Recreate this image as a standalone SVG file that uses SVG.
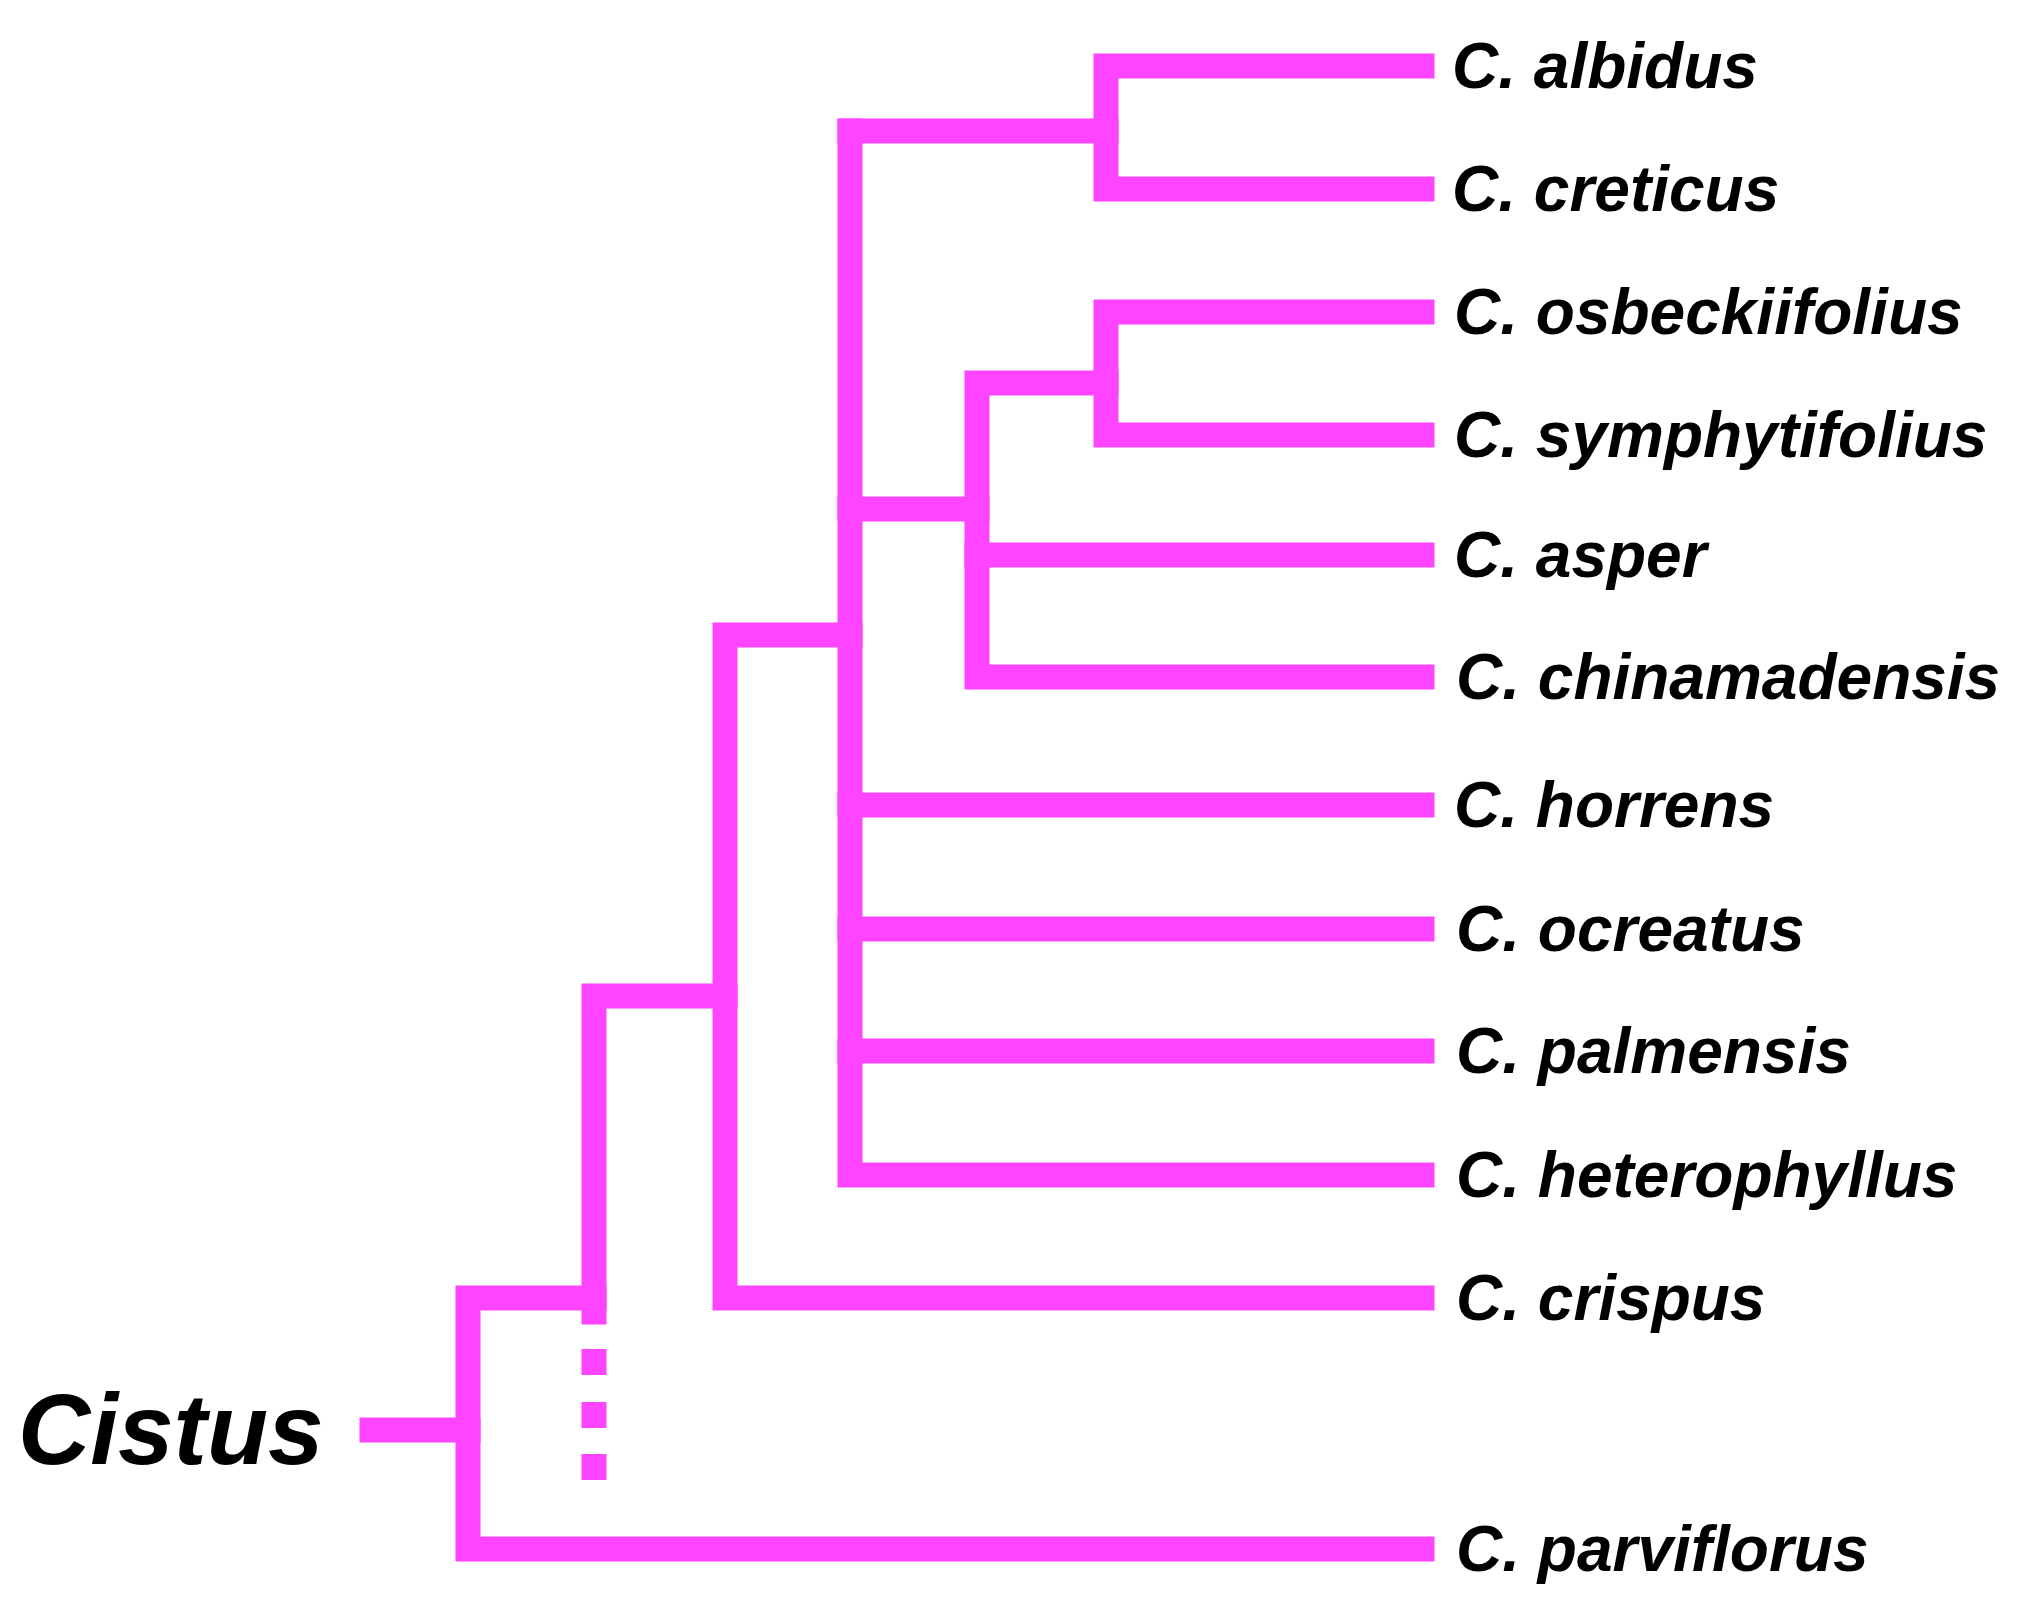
<svg xmlns="http://www.w3.org/2000/svg" width="2019" height="1597" viewBox="0 0 2019 1597">
<style>
.b{stroke:#ff44ff;stroke-width:25;fill:none;stroke-linecap:square}
.d{stroke:#ff44ff;stroke-width:25;fill:none}
.t{font-family:"Liberation Sans",Arial,sans-serif;font-weight:bold;font-style:italic;font-size:64px;fill:#000}
</style>
<rect width="2019" height="1597" fill="#fff"/>
<g id="connectors">
<path class="b" d="M1422 66H1106V189H1422"/>
<path class="b" d="M1106 131H850"/>
<path class="b" d="M1422 312H1106V435H1422"/>
<path class="b" d="M1106 383H977V677H1422"/>
<path class="b" d="M977 555H1422"/>
<path class="b" d="M977 509H850"/>
<path class="b" d="M850 131V1175H1422"/>
<path class="b" d="M850 805H1422M850 929H1422M850 1051H1422"/>
<path class="b" d="M850 635H725V1298H1422"/>
<path class="b" d="M725 996H594V1312"/>
<path class="d" d="M594 1349V1375M594 1402V1428M594 1454V1480"/>
<path class="b" d="M594 1298H468V1549H1422"/>
<path class="b" d="M468 1430H372"/>
</g>
<g id="root"><text class="t" x="18" y="1464" style="font-size:100px">Cistus</text></g>
<g id="albidus"><text class="t" x="1452" y="88">C. albidus</text></g>
<g id="creticus"><text class="t" x="1452" y="211">C. creticus</text></g>
<g id="osbeckiifolius"><text class="t" x="1454" y="334">C. osbeckiifolius</text></g>
<g id="symphytifolius"><text class="t" x="1454" y="457">C. symphytifolius</text></g>
<g id="asper"><text class="t" x="1454" y="577">C. asper</text></g>
<g id="chinamadensis"><text class="t" x="1456" y="699">C. chinamadensis</text></g>
<g id="horrens"><text class="t" x="1454" y="827">C. horrens</text></g>
<g id="ocreatus"><text class="t" x="1456" y="951">C. ocreatus</text></g>
<g id="palmensis"><text class="t" x="1456" y="1073">C. palmensis</text></g>
<g id="heterophyllus"><text class="t" x="1456" y="1197">C. heterophyllus</text></g>
<g id="crispus"><text class="t" x="1456" y="1320">C. crispus</text></g>
<g id="parviflorus"><text class="t" x="1456" y="1571">C. parviflorus</text></g>
</svg>
